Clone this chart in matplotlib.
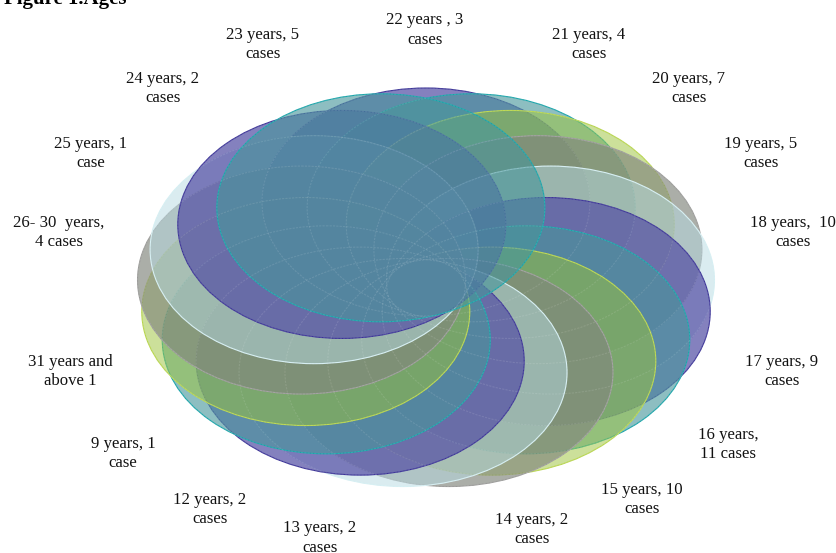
import matplotlib
matplotlib.use("Agg")
import matplotlib.pyplot as plt
from matplotlib.patches import Ellipse
import numpy as np

# age groups clockwise from the top of the ring
ages = ["22 years ,", "21 years,", "20 years,", "19 years,", "18 years, ", "17 years,",
        "16 years,", "15 years,", "14 years,", "13 years,", "12 years,", "9 years,",
        "31 years and", "26- 30  years,", "25 years,", "24 years,", "23 years,"]
cases = ["3", "4", "7", "5", "10", "9", "11", "10", "2", "2", "2", "1", "1", "4", "1", "2", "5"]
# second line of each caption
unit = ["cases", "cases", "cases", "cases", "cases", "cases", "11 cases", "cases", "cases",
        "cases", "cases", "case", "above 1", "4 cases", "case", "cases", "cases"]

label_x = [425, 589, 689, 761, 793, 782, 728, 642, 532, 320, 210, 123, 70, 59, 91, 163, 263]
label_y = [30, 44.5, 88.5, 153.5, 232.5, 371.5, 444.5, 499.5, 529.5, 538, 509.5, 453.5, 371.5, 232.5, 153.5, 88.5, 44.5]

plt.rcParams["font.family"] = ["Liberation Serif", "DejaVu Serif"]

fig = plt.figure(figsize=(8.36, 5.53), dpi=100)
ax = fig.add_axes([0, 0, 1, 1])
ax.set_xlim(0, 836)
ax.set_ylim(553, 0)
ax.axis("off")

# purple, teal, yellow, gray, light blue repeating round the ring
fills = [(85/255, 80/255, 165/255, 0.72), (72/255, 150/255, 155/255, 0.62),
         (155/255, 195/255, 55/255, 0.50), (130/255, 135/255, 125/255, 0.67),
         (182/255, 218/255, 226/255, 0.50)]
lines = ["#3a3296", "#17a3a8", "#b6d44a", "#9a9a98", "#d4eef2"]

angles = np.arange(len(ages)) * 2 * np.pi / len(ages)
ring_x, ring_y = 426, 288
ring_rx, ring_ry = 125, 86
centers = [(ring_x + ring_rx * np.sin(a), ring_y - ring_ry * np.cos(a)) for a in angles]

for i, c in enumerate(centers):
    e = Ellipse(c, 328, 228, facecolor=fills[i % 5], edgecolor=lines[i % 5],
                linewidth=0.8, zorder=i + 1)
    ax.add_patch(e)

# pale dotted outlines show through all the fills
for c in centers:
    ax.add_patch(Ellipse(c, 328, 228, fill=False, edgecolor="white", alpha=0.11,
                         linewidth=0.8, linestyle=(0, (2, 1)), zorder=25))

for i in range(len(ages)):
    if unit[i] in ("11 cases", "4 cases") or ages[i].startswith("31"):
        first = ages[i]
    else:
        first = ages[i] + " " + cases[i]
    ax.text(label_x[i], label_y[i], first + "\n" + unit[i], ha="center", va="center",
            fontsize=12.1, linespacing=1.3, color="#111111", zorder=30)

ax.text(4, 4, "Figure 1.Ages", fontsize=15, fontweight="bold", ha="left", va="baseline",
        color="black", zorder=30)

fig.savefig("out.png", dpi=100)
